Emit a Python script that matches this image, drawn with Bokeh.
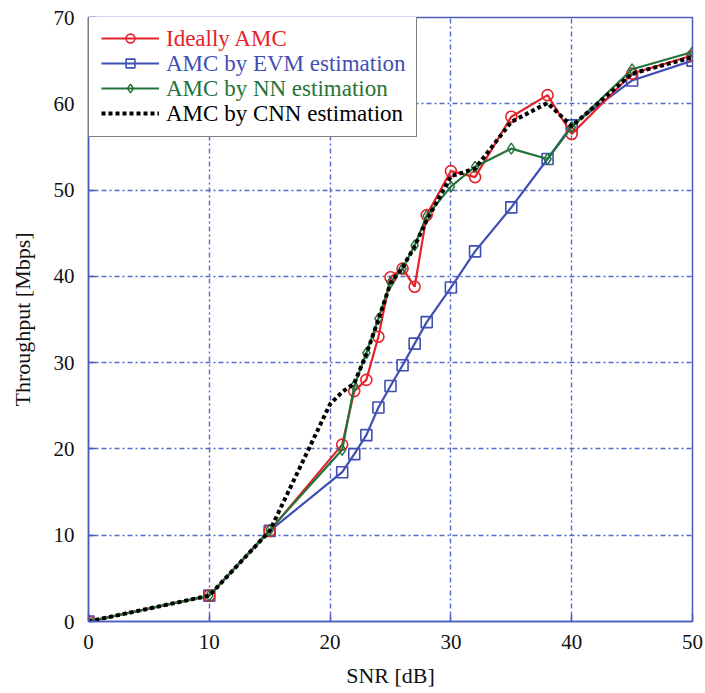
from bokeh.plotting import figure
from bokeh.models import Legend, LegendItem, FixedTicker, Range1d
from bokeh.embed import file_html
from bokeh.resources import INLINE

# ---- data ----
snr = [0, 10, 15, 21, 22, 23, 24, 25, 26, 27, 28, 30, 32, 35, 38, 40, 45, 50]
ideal = [0, 3.0, 10.5, 20.5, 26.7, 28.0, 33.0, 39.9, 40.9, 38.8, 47.1, 52.2, 51.5, 58.5, 61.0, 56.5, 63.5, 65.6]
evm = [0, 3.0, 10.5, 17.3, 19.4, 21.6, 24.8, 27.3, 29.7, 32.2, 34.7, 38.7, 42.9, 48.0, 53.6, 57.5, 62.7, 65.0]
nn = [0, 3.0, 10.6, 19.9, 27.3, 31.1, 35.1, 39.3, 40.9, 43.6, 47.0, 50.4, 52.7, 54.8, 53.6, 57.3, 64.0, 66.0]
snr_cnn = [0, 10, 15, 20, 21, 22, 23, 24, 25, 26, 27, 28, 30, 32, 35, 38, 40, 45, 50]
cnn = [0, 3.0, 10.5, 25.2, 26.6, 27.6, 31.0, 35.0, 39.2, 41.0, 43.5, 46.5, 51.6, 52.5, 57.9, 60.1, 57.4, 63.5, 65.4]

x_ticks = [0, 10, 20, 30, 40, 50]
y_ticks = [0, 10, 20, 30, 40, 50, 60, 70]
series_labels = ["Ideally AMC", "AMC by EVM estimation", "AMC by NN estimation", "AMC by CNN estimation"]

# ---- styles ----
RED = "#e4232b"
BLUE = "#3f4fb3"
GREEN = "#23733a"
BLACK = "#000000"
FRAME = "#4b5bbb"
GRID = "#5767c6"
FONT = "Liberation Serif"

p = figure(width=705, height=693, output_backend="svg", toolbar_location=None,
           x_range=Range1d(0, 50), y_range=Range1d(0, 70),
           min_border_left=88, min_border_right=13, min_border_top=17, min_border_bottom=72)
p.background_fill_color = "white"
p.border_fill_color = "white"
p.outline_line_color = FRAME
p.outline_line_width = 1.5

for ax, ticks in ((p.xaxis[0], x_ticks), (p.yaxis[0], y_ticks)):
    ax.ticker = FixedTicker(ticks=ticks)
    ax.axis_line_color = FRAME
    ax.axis_line_width = 1.5
    ax.major_tick_line_color = FRAME
    ax.major_tick_line_width = 1.5
    ax.major_tick_in = 8
    ax.major_tick_out = 0
    ax.minor_tick_in = 0
    ax.minor_tick_out = 0
    ax.major_label_text_font = FONT
    ax.major_label_text_font_size = "21px"
    ax.major_label_text_color = "#111111"
    ax.axis_label_text_font = FONT
    ax.axis_label_text_font_size = "22px"
    ax.axis_label_text_font_style = "normal"
    ax.axis_label_text_color = "#111111"

p.xaxis.axis_label = "SNR [dB]"
p.yaxis.axis_label = "Throughput [Mbps]"
p.xaxis.major_label_standoff = 13
p.xaxis.axis_label_standoff = 11
p.yaxis.major_label_standoff = 14
p.yaxis.axis_label_standoff = 16

p.xgrid.ticker = FixedTicker(ticks=x_ticks)
p.ygrid.ticker = FixedTicker(ticks=y_ticks)
for g in (p.xgrid[0], p.ygrid[0]):
    g.grid_line_color = GRID
    g.grid_line_width = 1.4
    g.grid_line_dash = "5 3 2 3"

# ---- series ----
evm_line = p.line(snr, evm, line_color=BLUE, line_width=2.2)
evm_mk = p.scatter(snr, evm, marker="square", size=11, line_color=BLUE, fill_color=None, line_width=1.6)
red_line = p.line(snr, ideal, line_color=RED, line_width=2.2)
red_mk = p.scatter(snr, ideal, marker="circle", size=11, line_color=RED, fill_color=None, line_width=1.6)
nn_line = p.line(snr, nn, line_color=GREEN, line_width=2.2)
nn_mk = p.scatter(snr, nn, marker="diamond", size=11, line_color=GREEN, fill_color=None, line_width=1.4)
cnn_line = p.line(snr_cnn, cnn, line_color=BLACK, line_width=4, line_dash="4 3")

groups = [[red_line, red_mk], [evm_line, evm_mk], [nn_line, nn_mk], [cnn_line]]

# legend box: border, background and sample glyphs
box = Legend(items=[LegendItem(label=" ", renderers=g) for g in groups],
             location=(0, 484), label_text_font=FONT, label_text_font_size="14px",
             label_height=22, label_width=237, glyph_height=22, glyph_width=58,
             label_standoff=8, spacing=3, padding=12, margin=0,
             border_line_color="black", border_line_width=1.5,
             background_fill_color="white", background_fill_alpha=1)
p.add_layout(box)

# coloured legend texts, one transparent legend per entry
colors = [RED, BLUE, GREEN, BLACK]
for i, (lab, col) in enumerate(zip(series_labels, colors)):
    lg = Legend(items=[LegendItem(label=lab, renderers=[])],
                location=(0, 555 - 25 * i), label_text_font=FONT, label_text_font_size="23px",
                label_text_color=col, label_height=30, glyph_height=30, glyph_width=58,
                label_standoff=8, spacing=0, padding=12, margin=0,
                border_line_alpha=0, background_fill_alpha=0)
    p.add_layout(lg)

open("out.html", "w").write(file_html(p, INLINE))
